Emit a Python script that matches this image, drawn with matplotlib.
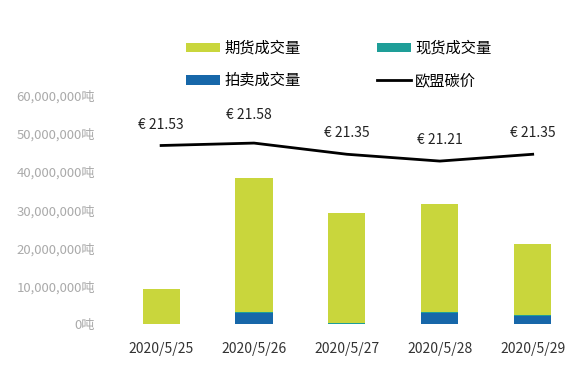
import numpy as np
import matplotlib
matplotlib.use('Agg')
import matplotlib.pyplot as plt
from matplotlib.ticker import FuncFormatter

plt.rcParams['font.family'] = ['Noto Sans CJK SC', 'DejaVu Sans']

dates = ['2020/5/25', '2020/5/26', '2020/5/27', '2020/5/28', '2020/5/29']
auction = [0, 2900000, 150000, 3000000, 2200000]
spot = [0, 300000, 150000, 300000, 200000]
futures = [9300000, 35300000, 28900000, 28300000, 18600000]
price = [21.53, 21.58, 21.35, 21.21, 21.35]

colFut = '#c9d63c'
colSpot = '#1e9e98'
colAuc = '#1767a9'

fig = plt.figure(figsize=(5.85, 3.73), dpi=100)
ax = fig.add_axes([0.196, 0.131, 0.794, 0.612])
x = np.arange(len(dates))
w = 0.4

ax.bar(x, auction, w, color=colAuc, label='拍卖成交量')
ax.bar(x, spot, w, bottom=auction, color=colSpot, label='现货成交量')
bot = np.array(auction) + np.array(spot)
ax.bar(x, futures, w, bottom=bot, color=colFut, label='期货成交量')

ax.set_ylim(0, 60000000)
ax.set_xlim(-0.5, 4.5)
ax.set_yticks(np.arange(0, 60000001, 10000000))
ax.yaxis.set_major_formatter(FuncFormatter(lambda v, p: '{:,.0f}吨'.format(v)))
ax.set_xticks(x)
ax.set_xticklabels(dates)
ax.tick_params(axis='y', length=0, pad=14, labelsize=9.5, labelcolor='#aaaaaa')
ax.tick_params(axis='x', length=0, pad=13, labelsize=10, labelcolor='#333333')
for s in ax.spines.values():
	s.set_visible(False)

ax2 = ax.twinx()
ax2.plot(x, price, color='black', lw=2, label='欧盟碳价')
ax2.set_ylim(17.86, 22.55)
ax2.axis('off')
for i, p in enumerate(price):
	ax2.annotate('€ ' + format(p, '.2f'), (x[i], p), xytext=(-4 if i == 1 else 0, 15 if i == 1 else 10),
		textcoords='offset points', ha='center', va='bottom', fontsize=10, color='#222222')

h1, l1 = ax.get_legend_handles_labels()
h2, l2 = ax2.get_legend_handles_labels()
handles = [h1[2], h1[0], h1[1], h2[0]]
labels = [l1[2], l1[0], l1[1], l2[0]]
fig.legend(handles, labels, ncol=2, loc='upper left', bbox_to_anchor=(0.295, 0.93),
	frameon=False, fontsize=11, handlelength=2.2, handleheight=0.6,
	columnspacing=5.0, labelspacing=1.0, handletextpad=0.3)

plt.savefig('out.png', dpi=100)
